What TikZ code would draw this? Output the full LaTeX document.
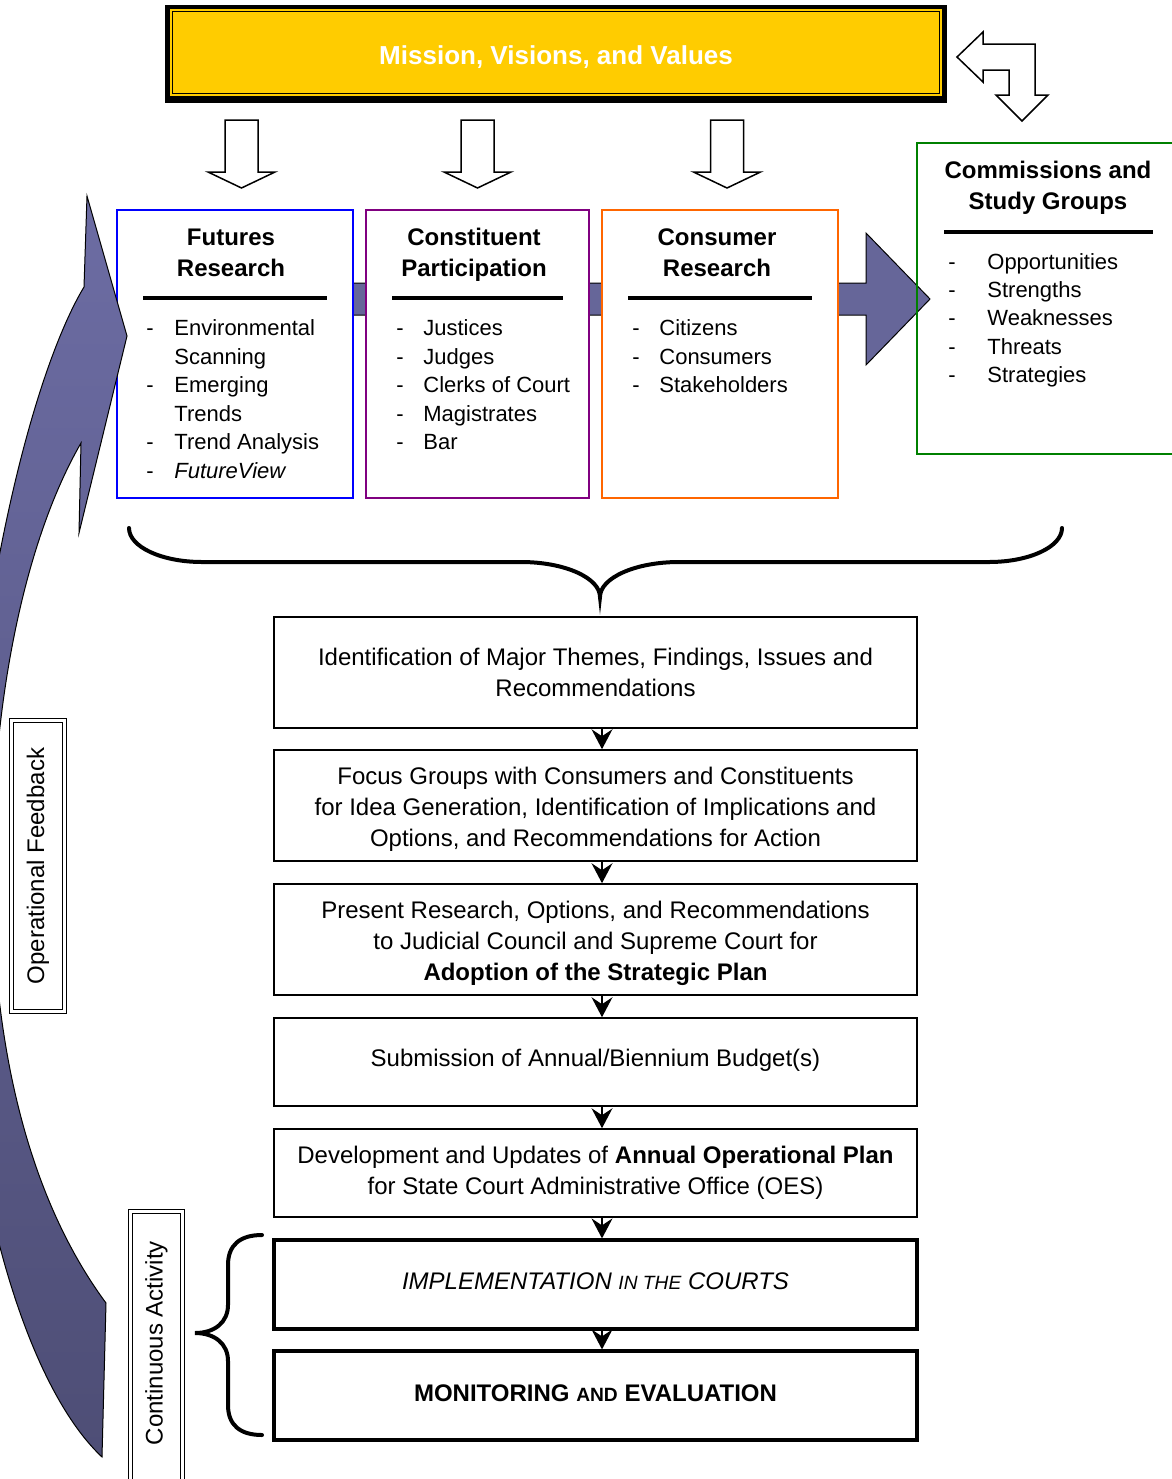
\documentclass[tikz,border=0pt]{standalone}
\usepackage{fontspec}
\setmainfont{Liberation Sans}
\usetikzlibrary{arrows.meta,calc}
\definecolor{mvvyellow}{RGB}{255,204,0}
\definecolor{arrowblue}{RGB}{102,102,153}
\definecolor{boxblue}{RGB}{0,0,255}
\definecolor{boxpurple}{RGB}{128,0,128}
\definecolor{boxorange}{RGB}{255,102,0}
\definecolor{boxgreen}{RGB}{0,128,0}
\definecolor{curvetop}{RGB}{108,108,163}
\definecolor{curvebot}{RGB}{78,78,118}
\begin{document}
\begin{tikzpicture}[x=0.5pt,y=-0.5pt,
  topbox/.style={draw, fill=white, line width=1.3pt, inner sep=0pt},
  headtext/.style={font=\fontsize{12}{15.5}\selectfont\bfseries, align=center, inner sep=0pt},
  listtext/.style={font=\fontsize{11}{14.3}\selectfont, inner sep=0pt, anchor=north west},
  rulebar/.style={line width=2.2pt},
  hollow/.style={draw=black, fill=white, line width=0.75pt, line join=miter},
  stepbox/.style={draw, line width=0.8pt, minimum width=321.5pt, align=center, inner sep=0pt, font=\fontsize{12}{15.5}\selectfont},
  tallbox/.style={stepbox, minimum height=55.5pt},
  shortbox/.style={stepbox, minimum height=44pt},
  boldbox/.style={stepbox, minimum height=44.5pt, line width=1.6pt},
  steparrow/.style={-{Stealth[length=10pt,width=10.5pt,inset=3.5pt]}, line width=0.8pt},
  bracepath/.style={line width=2pt, line cap=round},
  dblframe/.style={draw, line width=0.5pt, double, double distance=1.5pt},
  sidelabel/.style={font=\fontsize{12}{14}\selectfont, rotate=90, inner sep=0pt}
]
\useasboundingbox (0,0) rectangle (1172,1479);
\clip (0,0) rectangle (1172,1479);

% horizontal flow arrow behind the research boxes
\draw[fill=arrowblue, line width=0.5pt, line join=miter]
  (300,283) -- (866,283) -- (866,233) -- (930,299) -- (866,365) -- (866,315) -- (300,315) -- cycle;

% research boxes
\node[topbox, draw=boxblue, minimum width=118pt, minimum height=144pt] (fr) at (235,354) {};
\node[topbox, draw=boxpurple, minimum width=111.5pt, minimum height=144pt] (cp) at (477.5,354) {};
\node[topbox, draw=boxorange, minimum width=118pt, minimum height=144pt] (cr) at (720,354) {};
\node[draw=boxgreen, line width=1.2pt, inner sep=0pt, minimum width=134pt, minimum height=155.5pt] (cs) at (1051,298.5) {};

\node[headtext] (frh) at (231,253) {Futures\\Research};
\node[headtext] (cph) at (474,255) {Constituent\\Participation};
\node[headtext] (crh) at (717,253) {Consumer\\Research};
\node[headtext] (csh) at (1048,188) {Commissions and\\Study Groups};

\draw[rulebar] (143,298) -- (327,298);
\draw[rulebar] (392,298) -- (563,298);
\draw[rulebar] (628,298) -- (812,298);
\draw[rulebar] (944,232) -- (1153,232);

\node[listtext] (frl) at (146,315) {\begin{tabular}{@{}p{14pt}@{}l@{}}-&Environmental\\&Scanning\\-&Emerging\\&Trends\\-&Trend Analysis\\-&\textit{FutureView}\end{tabular}};
\node[listtext] (cpl) at (396,315) {\begin{tabular}{@{}p{13.5pt}@{}l@{}}-&Justices\\-&Judges\\-&Clerks of Court\\-&Magistrates\\-&Bar\end{tabular}};
\node[listtext] (crl) at (632,315) {\begin{tabular}{@{}p{13.5pt}@{}l@{}}-&Citizens\\-&Consumers\\-&Stakeholders\end{tabular}};
\node[listtext, font=\fontsize{11}{14.15}\selectfont] (csl) at (948,249) {\begin{tabular}{@{}p{19.5pt}@{}l@{}}-&Opportunities\\-&Strengths\\-&Weaknesses\\-&Threats\\-&Strategies\end{tabular}};

% banner
\fill[black] (165,5) rectangle (947,103);
\fill[mvvyellow] (169.5,9) rectangle (941.5,96);
\draw[line width=0.5pt] (172.5,11.5) rectangle (939.5,93.8);
\node[text=white, font=\fontsize{13}{15}\selectfont\bfseries, inner sep=0pt] (mvv) at (556,57.5) {Mission, Visions, and Values};

% hollow down arrows
\foreach \cx in {241.5,477.5,727}{
  \draw[hollow] (\cx-16.5,120) -- (\cx+16.5,120) -- (\cx+16.5,172) -- (\cx+33.5,172) -- (\cx,188) -- (\cx-33.5,172) -- (\cx-16.5,172) -- cycle;
}
% bent two-way arrow
\draw[hollow] (957,57) -- (983,32) -- (983,44) -- (1035,44) -- (1035,95) -- (1048,95) -- (1022,121) -- (996,95) -- (1009,95) -- (1009,70) -- (983,70) -- (983,82) -- cycle;

% curved feedback arrow
\shadedraw[top color=curvetop, bottom color=curvebot, line width=0.5pt, line join=miter]
 (106,1303) .. controls (30,1200) and (-8,1050) .. (-8,870)
 .. controls (-8,700) and (25,540) .. (81,443)
 -- (79,533) -- (127,336) -- (87,196) -- (84,287)
 .. controls (40,360) and (-20,560) .. (-40,880)
 .. controls (-45,1150) and (20,1380) .. (102,1457)
 -- cycle;

% big brace
\draw[bracepath] (129,528) .. controls (129,547) and (162,562) .. (202,562) -- (521,562)
  .. controls (565,562) and (600,578) .. (600,597)
  .. controls (600,578) and (635,562) .. (679,562) -- (989,562)
  .. controls (1029,562) and (1062,547) .. (1062,528);

% process steps
\node[tallbox] (s1) at (595.5,672.5) {Identification of Major Themes, Findings, Issues and\\Recommendations};
\node[tallbox] (s2) at (595.5,805.5) {\rule{0pt}{12.7pt}Focus Groups with Consumers and Constituents\\for Idea Generation, Identification of Implications and\\Options, and Recommendations for Action};
\node[tallbox] (s3) at (595.5,939.5) {\rule{0pt}{12.7pt}Present Research, Options, and Recommendations\\to Judicial Council and Supreme Court for\\\textbf{Adoption of the Strategic Plan}};
\node[shortbox] (s4) at (595.5,1062) {Submission of Annual/Biennium Budget(s)\rule[-4.5pt]{0pt}{0pt}};
\node[shortbox] (s5) at (595.5,1173) {Development and Updates of \textbf{Annual Operational Plan}\\for State Court Administrative Office (OES)};
\node[boldbox] (s6) at (595.5,1284.5) {\textit{IMPLEMENTATION {\fontsize{9.6}{12}\selectfont IN THE} COURTS}\rule[-3pt]{0pt}{0pt}};
\node[boldbox] (s7) at (595.5,1395.5) {\textbf{MONITORING {\fontsize{9.6}{12}\selectfont AND} EVALUATION}\rule[-2pt]{0pt}{0pt}};

\coordinate (ax) at (602,0);
\foreach \a/\b in {s1/s2,s2/s3,s3/s4,s4/s5,s5/s6,s6/s7}{
  \draw[steparrow] (\a.south -| ax) -- (\b.north -| ax);
}

% side labels
\node[sidelabel, dblframe, minimum width=145.5pt, minimum height=26.5pt] (of) at (38,866) {Operational Feedback};
\draw[dblframe] (130.5,1211.5) rectangle (182.5,1500);
\node[sidelabel] (ca) at (156.5,1343) {Continuous Activity};

% small brace
\draw[bracepath] (262,1235) .. controls (240,1235) and (228,1245) .. (228,1265) -- (228,1305)
  .. controls (228,1322) and (215,1333) .. (195,1333)
  .. controls (215,1333) and (228,1344) .. (228,1361) -- (228,1405)
  .. controls (228,1425) and (240,1435) .. (262,1435);
\end{tikzpicture}
\end{document}
